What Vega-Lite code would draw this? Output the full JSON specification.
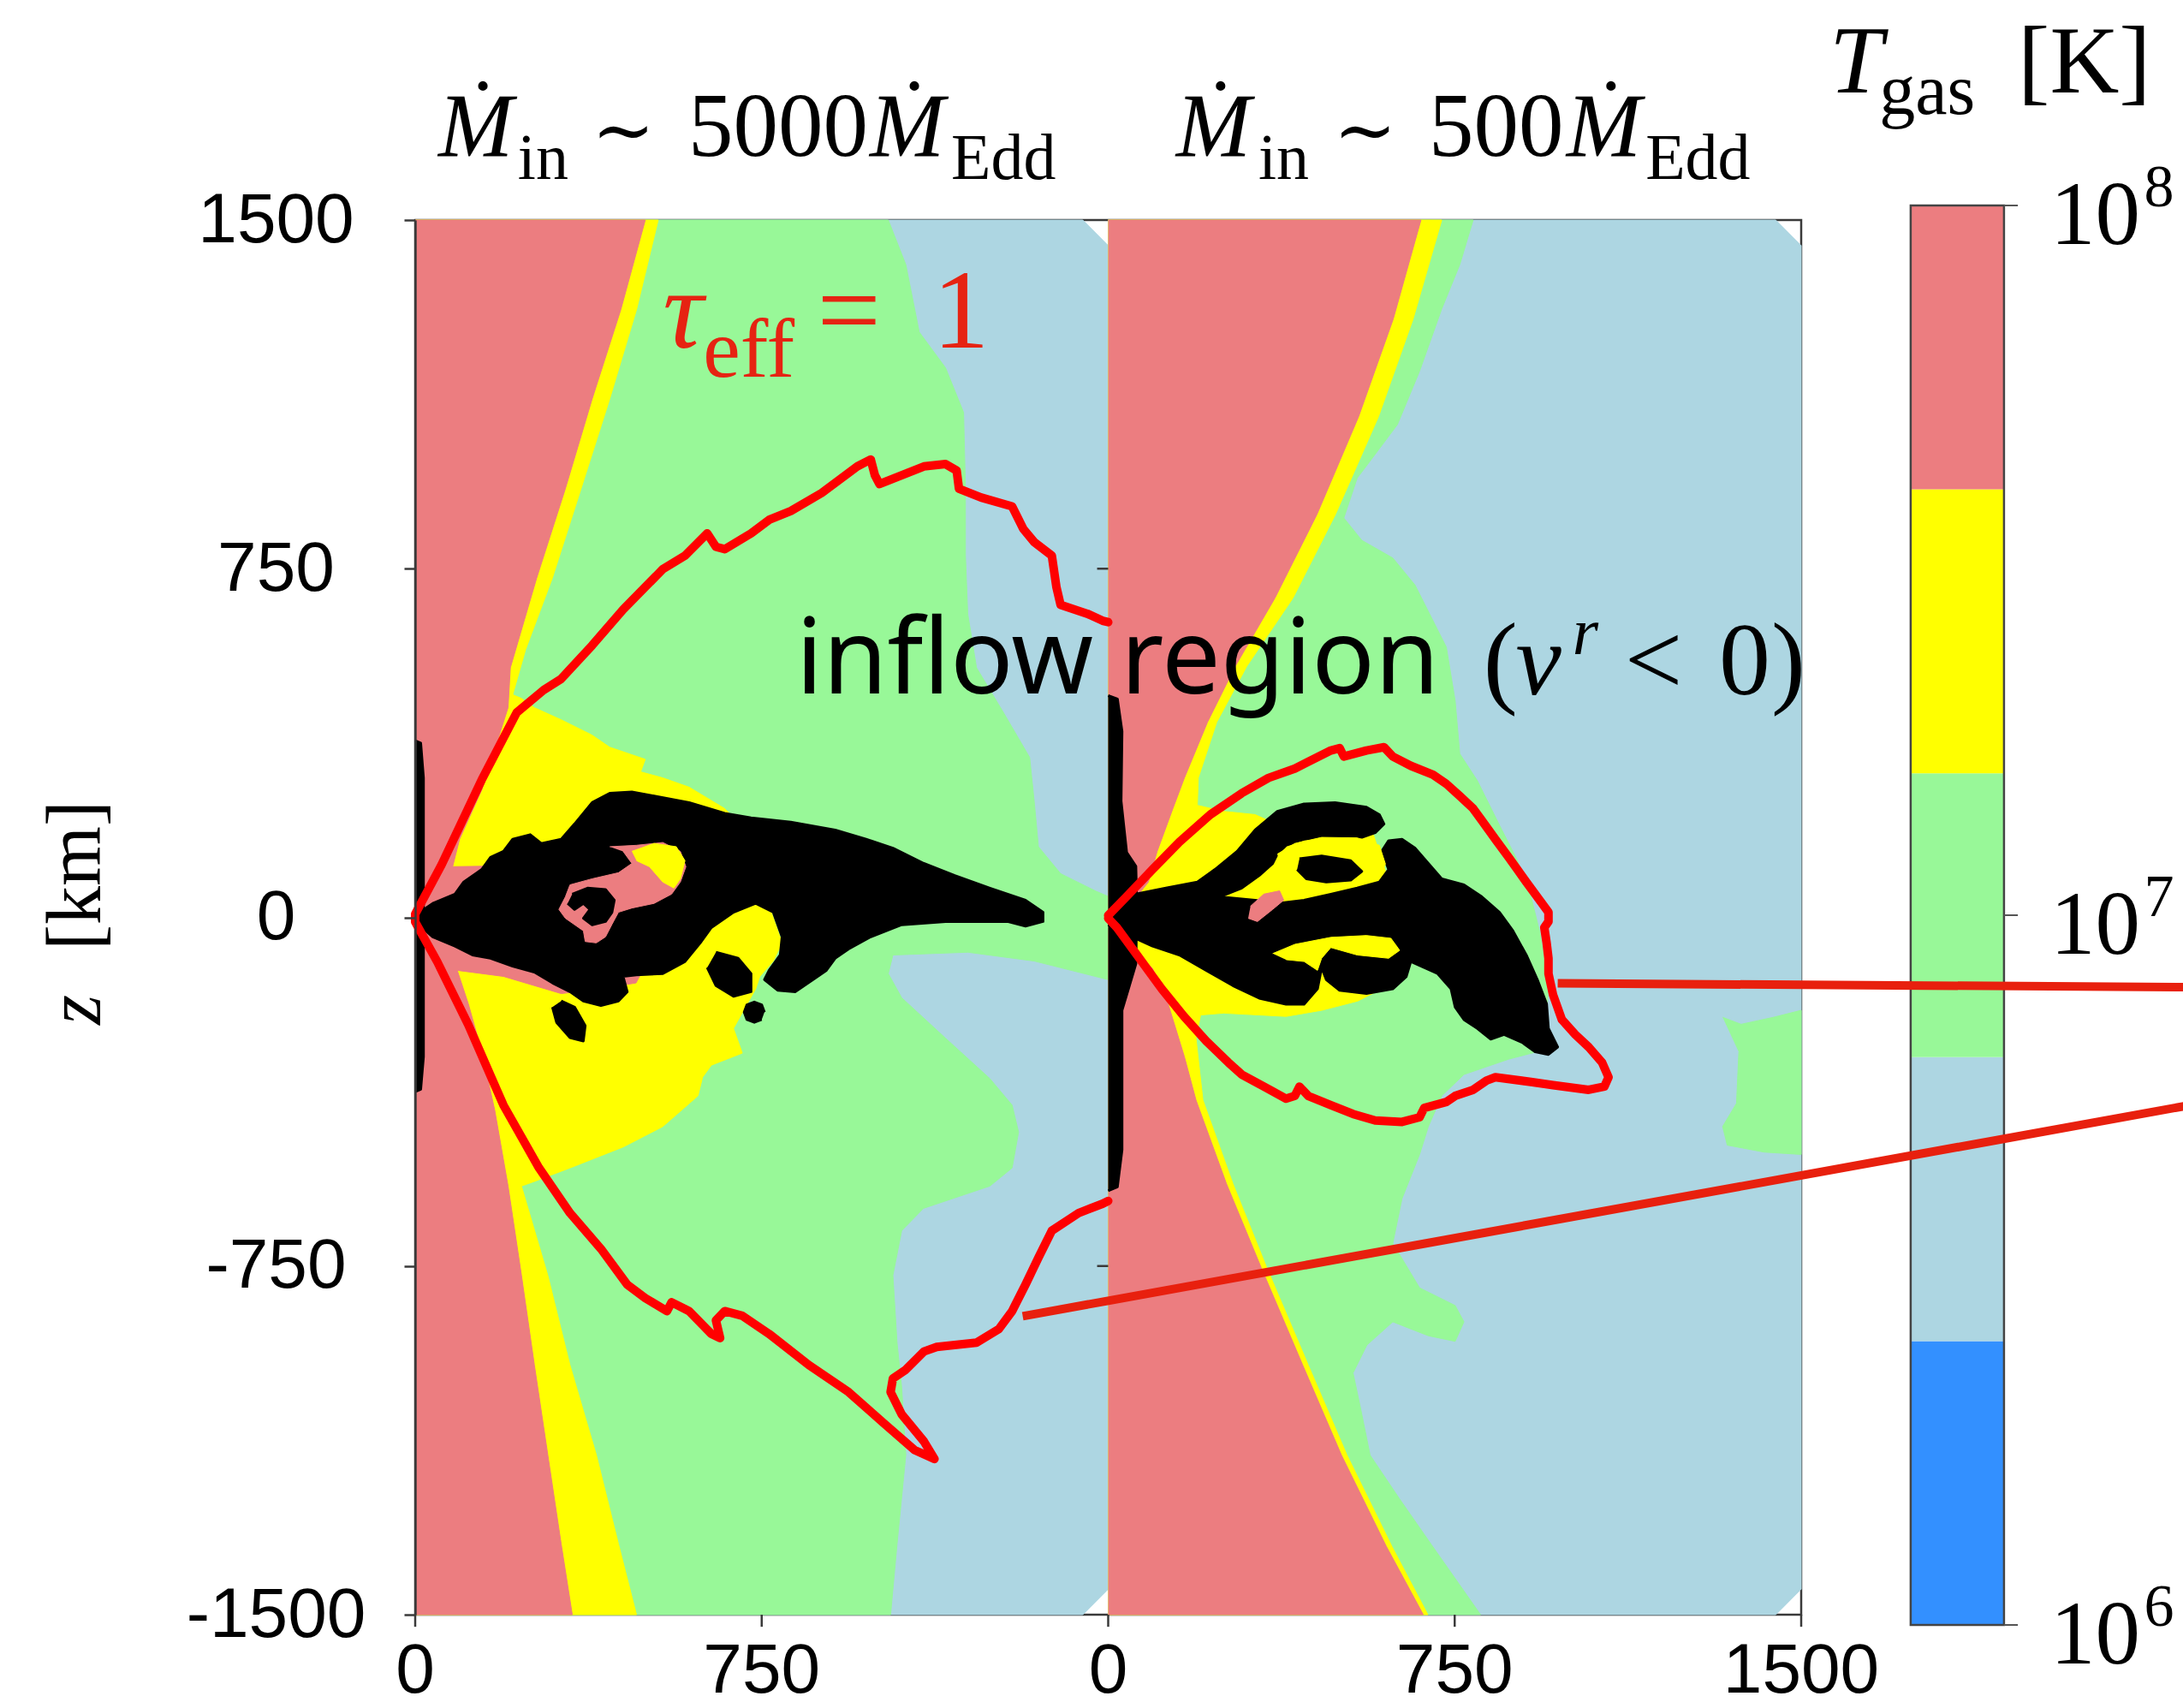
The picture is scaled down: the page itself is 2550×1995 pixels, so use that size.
{
  "$schema": "https://vega.github.io/schema/vega-lite/v6.json",
  "width": 1619,
  "height": 1629,
  "autosize": {"type": "none"},
  "padding": {"left": 485, "top": 257, "right": 446, "bottom": 109},
  "background": "white",
  "config": {"view": {"stroke": "#3a3a3a", "strokeWidth": 2.5}},
  "datasets": {
    "bands": [
      {"lo": 1000000, "hi": 2511886, "band": "cold"},
      {"lo": 2511886, "hi": 6309573, "band": "cool"},
      {"lo": 6309573, "hi": 15848932, "band": "mid"},
      {"lo": 15848932, "hi": 39810717, "band": "warm"},
      {"lo": 39810717, "hi": 100000000, "band": "hot"}
    ],
    "cbticks": [
      {"T": 100000000, "exp": "8"},
      {"T": 10000000, "exp": "7"},
      {"T": 1000000, "exp": "6"}
    ],
    "xticks": [
      {"r": 0, "label": "0"},
      {"r": 750, "label": "750"},
      {"r": 1500, "label": "0"},
      {"r": 2250, "label": "750"},
      {"r": 3000, "label": "1500"}
    ],
    "shapes": [
      {"s":"Lbg","x":0,"y":1500},{"s":"Lbg","x":1445,"y":1500},{"s":"Lbg","x":1500,"y":1445},{"s":"Lbg","x":1500,"y":-1445},{"s":"Lbg","x":1445,"y":-1500},{"s":"Lbg","x":0,"y":-1500},
      {"s":"Rbg","x":1500,"y":1500},{"s":"Rbg","x":2945,"y":1500},{"s":"Rbg","x":3000,"y":1445},{"s":"Rbg","x":3000,"y":-1445},{"s":"Rbg","x":2945,"y":-1500},{"s":"Rbg","x":1500,"y":-1500},

      {"s":"Lg","x":0,"y":1500},{"s":"Lg","x":1024,"y":1500},{"s":"Lg","x":1062,"y":1404},{"s":"Lg","x":1091,"y":1259},{"s":"Lg","x":1148,"y":1182},{"s":"Lg","x":1187,"y":1086},{"s":"Lg","x":1191,"y":922},{"s":"Lg","x":1191,"y":778},{"s":"Lg","x":1196,"y":653},{"s":"Lg","x":1215,"y":537},{"s":"Lg","x":1273,"y":441},{"s":"Lg","x":1330,"y":344},{"s":"Lg","x":1340,"y":248},{"s":"Lg","x":1349,"y":152},{"s":"Lg","x":1397,"y":94},{"s":"Lg","x":1474,"y":56},{"s":"Lg","x":1500,"y":45},{"s":"Lg","x":1500,"y":-134},{"s":"Lg","x":1340,"y":-94},{"s":"Lg","x":1196,"y":-75},{"s":"Lg","x":1034,"y":-81},{"s":"Lg","x":1024,"y":-121},{"s":"Lg","x":1053,"y":-173},{"s":"Lg","x":1148,"y":-260},{"s":"Lg","x":1244,"y":-347},{"s":"Lg","x":1292,"y":-404},{"s":"Lg","x":1306,"y":-462},{"s":"Lg","x":1292,"y":-539},{"s":"Lg","x":1244,"y":-578},{"s":"Lg","x":1100,"y":-626},{"s":"Lg","x":1053,"y":-674},{"s":"Lg","x":1034,"y":-770},{"s":"Lg","x":1043,"y":-915},{"s":"Lg","x":1053,"y":-1011},{"s":"Lg","x":1062,"y":-1156},{"s":"Lg","x":1043,"y":-1348},{"s":"Lg","x":1029,"y":-1500},{"s":"Lg","x":0,"y":-1500},

      {"s":"Rg","x":1500,"y":1500},{"s":"Rg","x":2290,"y":1500},{"s":"Rg","x":2261,"y":1404},{"s":"Rg","x":2222,"y":1309},{"s":"Rg","x":2174,"y":1175},{"s":"Rg","x":2126,"y":1060},{"s":"Rg","x":2068,"y":983},{"s":"Rg","x":2039,"y":945},{"s":"Rg","x":2010,"y":859},{"s":"Rg","x":2049,"y":811},{"s":"Rg","x":2116,"y":773},{"s":"Rg","x":2164,"y":715},{"s":"Rg","x":2193,"y":658},{"s":"Rg","x":2232,"y":581},{"s":"Rg","x":2251,"y":466},{"s":"Rg","x":2261,"y":352},{"s":"Rg","x":2299,"y":294},{"s":"Rg","x":2347,"y":198},{"s":"Rg","x":2386,"y":122},{"s":"Rg","x":2415,"y":45},{"s":"Rg","x":2434,"y":-31},{"s":"Rg","x":2453,"y":-146},{"s":"Rg","x":2444,"y":-285},{"s":"Rg","x":2367,"y":-305},{"s":"Rg","x":2270,"y":-338},{"s":"Rg","x":2222,"y":-384},{"s":"Rg","x":2193,"y":-450},{"s":"Rg","x":2174,"y":-510},{"s":"Rg","x":2136,"y":-605},{"s":"Rg","x":2116,"y":-701},{"s":"Rg","x":2174,"y":-797},{"s":"Rg","x":2251,"y":-835},{"s":"Rg","x":2270,"y":-870},{"s":"Rg","x":2251,"y":-912},{"s":"Rg","x":2193,"y":-900},{"s":"Rg","x":2116,"y":-870},{"s":"Rg","x":2060,"y":-920},{"s":"Rg","x":2030,"y":-980},{"s":"Rg","x":2045,"y":-1050},{"s":"Rg","x":2067,"y":-1157},{"s":"Rg","x":2130,"y":-1250},{"s":"Rg","x":2200,"y":-1350},{"s":"Rg","x":2306,"y":-1500},{"s":"Rg","x":1500,"y":-1500},

      {"s":"Rgp","x":2830,"y":-215},{"s":"Rgp","x":2870,"y":-230},{"s":"Rgp","x":2940,"y":-215},{"s":"Rgp","x":3000,"y":-200},{"s":"Rgp","x":3000,"y":-510},{"s":"Rgp","x":2920,"y":-505},{"s":"Rgp","x":2840,"y":-490},{"s":"Rgp","x":2830,"y":-450},{"s":"Rgp","x":2860,"y":-400},{"s":"Rgp","x":2865,"y":-290},

      {"s":"Ly","x":0,"y":1500},{"s":"Ly","x":526,"y":1500},{"s":"Ly","x":479,"y":1307},{"s":"Ly","x":421,"y":1115},{"s":"Ly","x":359,"y":922},{"s":"Ly","x":297,"y":730},{"s":"Ly","x":239,"y":576},{"s":"Ly","x":211,"y":479},{"s":"Ly","x":230,"y":471},{"s":"Ly","x":258,"y":451},{"s":"Ly","x":316,"y":425},{"s":"Ly","x":383,"y":392},{"s":"Ly","x":421,"y":366},{"s":"Ly","x":498,"y":340},{"s":"Ly","x":488,"y":313},{"s":"Ly","x":536,"y":300},{"s":"Ly","x":593,"y":280},{"s":"Ly","x":670,"y":234},{"s":"Ly","x":689,"y":215},{"s":"Ly","x":746,"y":142},{"s":"Ly","x":766,"y":24},{"s":"Ly","x":794,"y":-55},{"s":"Ly","x":775,"y":-94},{"s":"Ly","x":746,"y":-127},{"s":"Ly","x":737,"y":-154},{"s":"Ly","x":718,"y":-187},{"s":"Ly","x":689,"y":-239},{"s":"Ly","x":708,"y":-292},{"s":"Ly","x":641,"y":-318},{"s":"Ly","x":622,"y":-344},{"s":"Ly","x":612,"y":-384},{"s":"Ly","x":574,"y":-417},{"s":"Ly","x":536,"y":-450},{"s":"Ly","x":450,"y":-494},{"s":"Ly","x":335,"y":-539},{"s":"Ly","x":258,"y":-568},{"s":"Ly","x":230,"y":-578},{"s":"Ly","x":287,"y":-770},{"s":"Ly","x":335,"y":-963},{"s":"Ly","x":392,"y":-1156},{"s":"Ly","x":440,"y":-1348},{"s":"Ly","x":479,"y":-1500},{"s":"Ly","x":0,"y":-1500},

      {"s":"Ry","x":1500,"y":1500},{"s":"Ry","x":2222,"y":1500},{"s":"Ry","x":2160,"y":1287},{"s":"Ry","x":2085,"y":1077},{"s":"Ry","x":1992,"y":867},{"s":"Ry","x":1900,"y":687},{"s":"Ry","x":1800,"y":540},{"s":"Ry","x":1735,"y":420},{"s":"Ry","x":1695,"y":300},{"s":"Ry","x":1693,"y":241},{"s":"Ry","x":1750,"y":228},{"s":"Ry","x":1818,"y":221},{"s":"Ry","x":1847,"y":208},{"s":"Ry","x":1950,"y":200},{"s":"Ry","x":2060,"y":200},{"s":"Ry","x":2075,"y":175},{"s":"Ry","x":2100,"y":100},{"s":"Ry","x":2100,"y":40},{"s":"Ry","x":2080,"y":-40},{"s":"Ry","x":2110,"y":-50},{"s":"Ry","x":2125,"y":-90},{"s":"Ry","x":2100,"y":-150},{"s":"Ry","x":2040,"y":-180},{"s":"Ry","x":1962,"y":-200},{"s":"Ry","x":1885,"y":-213},{"s":"Ry","x":1750,"y":-206},{"s":"Ry","x":1700,"y":-210},{"s":"Ry","x":1690,"y":-260},{"s":"Ry","x":1705,"y":-393},{"s":"Ry","x":1770,"y":-573},{"s":"Ry","x":1843,"y":-753},{"s":"Ry","x":1933,"y":-963},{"s":"Ry","x":2017,"y":-1157},{"s":"Ry","x":2114,"y":-1353},{"s":"Ry","x":2192,"y":-1500},{"s":"Ry","x":1500,"y":-1500},

      {"s":"Lr","x":0,"y":1500},{"s":"Lr","x":498,"y":1500},{"s":"Lr","x":445,"y":1307},{"s":"Lr","x":383,"y":1115},{"s":"Lr","x":325,"y":922},{"s":"Lr","x":263,"y":730},{"s":"Lr","x":206,"y":537},{"s":"Lr","x":201,"y":451},{"s":"Lr","x":144,"y":274},{"s":"Lr","x":96,"y":168},{"s":"Lr","x":81,"y":109},{"s":"Lr","x":150,"y":110},{"s":"Lr","x":230,"y":140},{"s":"Lr","x":330,"y":150},{"s":"Lr","x":440,"y":160},{"s":"Lr","x":540,"y":155},{"s":"Lr","x":584,"y":150},{"s":"Lr","x":590,"y":50},{"s":"Lr","x":560,"y":-40},{"s":"Lr","x":500,"y":-100},{"s":"Lr","x":478,"y":-141},{"s":"Lr","x":402,"y":-154},{"s":"Lr","x":316,"y":-164},{"s":"Lr","x":191,"y":-127},{"s":"Lr","x":91,"y":-114},{"s":"Lr","x":115,"y":-186},{"s":"Lr","x":144,"y":-289},{"s":"Lr","x":172,"y":-414},{"s":"Lr","x":201,"y":-578},{"s":"Lr","x":230,"y":-770},{"s":"Lr","x":258,"y":-963},{"s":"Lr","x":287,"y":-1156},{"s":"Lr","x":316,"y":-1348},{"s":"Lr","x":340,"y":-1500},{"s":"Lr","x":0,"y":-1500},

      {"s":"Rr","x":1500,"y":1500},{"s":"Rr","x":2177,"y":1500},{"s":"Rr","x":2117,"y":1287},{"s":"Rr","x":2042,"y":1077},{"s":"Rr","x":1952,"y":867},{"s":"Rr","x":1861,"y":687},{"s":"Rr","x":1775,"y":540},{"s":"Rr","x":1715,"y":420},{"s":"Rr","x":1665,"y":300},{"s":"Rr","x":1640,"y":234},{"s":"Rr","x":1606,"y":142},{"s":"Rr","x":1587,"y":76},{"s":"Rr","x":1550,"y":30},{"s":"Rr","x":1515,"y":0},{"s":"Rr","x":1515,"y":-18},{"s":"Rr","x":1545,"y":-60},{"s":"Rr","x":1596,"y":-110},{"s":"Rr","x":1630,"y":-187},{"s":"Rr","x":1665,"y":-300},{"s":"Rr","x":1690,"y":-393},{"s":"Rr","x":1756,"y":-573},{"s":"Rr","x":1831,"y":-753},{"s":"Rr","x":1921,"y":-963},{"s":"Rr","x":2005,"y":-1157},{"s":"Rr","x":2102,"y":-1353},{"s":"Rr","x":2182,"y":-1500},{"s":"Rr","x":1500,"y":-1500},

      {"s":"Lb","x":0,"y":4},{"s":"Lb","x":38,"y":30},{"s":"Lb","x":86,"y":50},{"s":"Lb","x":105,"y":76},{"s":"Lb","x":144,"y":103},{"s":"Lb","x":163,"y":129},{"s":"Lb","x":191,"y":142},{"s":"Lb","x":211,"y":168},{"s":"Lb","x":249,"y":178},{"s":"Lb","x":273,"y":159},{"s":"Lb","x":316,"y":168},{"s":"Lb","x":345,"y":201},{"s":"Lb","x":383,"y":247},{"s":"Lb","x":421,"y":267},{"s":"Lb","x":469,"y":270},{"s":"Lb","x":517,"y":261},{"s":"Lb","x":593,"y":247},{"s":"Lb","x":670,"y":224},{"s":"Lb","x":727,"y":214},{"s":"Lb","x":813,"y":205},{"s":"Lb","x":909,"y":188},{"s":"Lb","x":976,"y":168},{"s":"Lb","x":1034,"y":149},{"s":"Lb","x":1101,"y":116},{"s":"Lb","x":1168,"y":90},{"s":"Lb","x":1244,"y":63},{"s":"Lb","x":1321,"y":37},{"s":"Lb","x":1359,"y":11},{"s":"Lb","x":1359,"y":-9},{"s":"Lb","x":1321,"y":-19},{"s":"Lb","x":1282,"y":-9},{"s":"Lb","x":1148,"y":-9},{"s":"Lb","x":1053,"y":-16},{"s":"Lb","x":986,"y":-42},{"s":"Lb","x":938,"y":-68},{"s":"Lb","x":909,"y":-88},{"s":"Lb","x":890,"y":-114},{"s":"Lb","x":861,"y":-134},{"s":"Lb","x":823,"y":-160},{"s":"Lb","x":785,"y":-157},{"s":"Lb","x":756,"y":-134},{"s":"Lb","x":766,"y":-114},{"s":"Lb","x":790,"y":-81},{"s":"Lb","x":794,"y":-42},{"s":"Lb","x":775,"y":11},{"s":"Lb","x":737,"y":30},{"s":"Lb","x":689,"y":11},{"s":"Lb","x":641,"y":-22},{"s":"Lb","x":617,"y":-55},{"s":"Lb","x":584,"y":-95},{"s":"Lb","x":536,"y":-121},{"s":"Lb","x":479,"y":-124},{"s":"Lb","x":450,"y":-127},{"s":"Lb","x":459,"y":-160},{"s":"Lb","x":440,"y":-180},{"s":"Lb","x":402,"y":-190},{"s":"Lb","x":364,"y":-180},{"s":"Lb","x":335,"y":-160},{"s":"Lb","x":297,"y":-141},{"s":"Lb","x":258,"y":-118},{"s":"Lb","x":211,"y":-105},{"s":"Lb","x":163,"y":-88},{"s":"Lb","x":124,"y":-81},{"s":"Lb","x":86,"y":-62},{"s":"Lb","x":38,"y":-42},{"s":"Lb","x":0,"y":-9},

      {"s":"Lb2","x":651,"y":-75},{"s":"Lb2","x":699,"y":-88},{"s":"Lb2","x":727,"y":-121},{"s":"Lb2","x":727,"y":-160},{"s":"Lb2","x":689,"y":-170},{"s":"Lb2","x":651,"y":-147},{"s":"Lb2","x":632,"y":-108},
      {"s":"Lb3","x":756,"y":-204},{"s":"Lb3","x":750,"y":-188},{"s":"Lb3","x":734,"y":-182},{"s":"Lb3","x":718,"y":-188},{"s":"Lb3","x":712,"y":-204},{"s":"Lb3","x":718,"y":-220},{"s":"Lb3","x":734,"y":-226},{"s":"Lb3","x":750,"y":-220},
      {"s":"Lb4","x":316,"y":-180},{"s":"Lb4","x":345,"y":-193},{"s":"Lb4","x":368,"y":-233},{"s":"Lb4","x":364,"y":-266},{"s":"Lb4","x":335,"y":-259},{"s":"Lb4","x":306,"y":-226},{"s":"Lb4","x":297,"y":-193},
      {"s":"Ls","x":0,"y":380},{"s":"Ls","x":12,"y":375},{"s":"Ls","x":18,"y":300},{"s":"Ls","x":18,"y":-300},{"s":"Ls","x":12,"y":-370},{"s":"Ls","x":0,"y":-375},
      {"s":"Rs","x":1500,"y":477},{"s":"Rs","x":1520,"y":470},{"s":"Rs","x":1530,"y":400},{"s":"Rs","x":1528,"y":250},{"s":"Rs","x":1540,"y":140},{"s":"Rs","x":1560,"y":110},{"s":"Rs","x":1562,"y":20},{"s":"Rs","x":1560,"y":-100},{"s":"Rs","x":1545,"y":-150},{"s":"Rs","x":1530,"y":-200},{"s":"Rs","x":1530,"y":-500},{"s":"Rs","x":1520,"y":-580},{"s":"Rs","x":1500,"y":-588},

      {"s":"Rb1","x":1539,"y":30},{"s":"Rb1","x":1558,"y":50},{"s":"Rb1","x":1625,"y":63},{"s":"Rb1","x":1693,"y":76},{"s":"Rb1","x":1731,"y":103},{"s":"Rb1","x":1779,"y":142},{"s":"Rb1","x":1818,"y":188},{"s":"Rb1","x":1866,"y":228},{"s":"Rb1","x":1924,"y":244},{"s":"Rb1","x":1991,"y":247},{"s":"Rb1","x":2059,"y":237},{"s":"Rb1","x":2087,"y":221},{"s":"Rb1","x":2097,"y":201},{"s":"Rb1","x":2078,"y":182},{"s":"Rb1","x":2049,"y":172},{"s":"Rb1","x":1982,"y":172},{"s":"Rb1","x":1924,"y":168},{"s":"Rb1","x":1885,"y":155},{"s":"Rb1","x":1866,"y":136},{"s":"Rb1","x":1856,"y":116},{"s":"Rb1","x":1827,"y":90},{"s":"Rb1","x":1789,"y":63},{"s":"Rb1","x":1741,"y":44},{"s":"Rb1","x":1673,"y":30},{"s":"Rb1","x":1616,"y":24},

      {"s":"Rb2","x":1500,"y":4},{"s":"Rb2","x":1548,"y":27},{"s":"Rb2","x":1644,"y":34},{"s":"Rb2","x":1741,"y":44},{"s":"Rb2","x":1818,"y":37},{"s":"Rb2","x":1866,"y":30},{"s":"Rb2","x":1924,"y":37},{"s":"Rb2","x":1982,"y":50},{"s":"Rb2","x":2039,"y":63},{"s":"Rb2","x":2087,"y":76},{"s":"Rb2","x":2107,"y":103},{"s":"Rb2","x":2092,"y":142},{"s":"Rb2","x":2107,"y":165},{"s":"Rb2","x":2136,"y":168},{"s":"Rb2","x":2164,"y":149},{"s":"Rb2","x":2193,"y":116},{"s":"Rb2","x":2222,"y":83},{"s":"Rb2","x":2270,"y":70},{"s":"Rb2","x":2309,"y":44},{"s":"Rb2","x":2347,"y":11},{"s":"Rb2","x":2376,"y":-29},{"s":"Rb2","x":2405,"y":-81},{"s":"Rb2","x":2429,"y":-134},{"s":"Rb2","x":2449,"y":-186},{"s":"Rb2","x":2453,"y":-239},{"s":"Rb2","x":2473,"y":-279},{"s":"Rb2","x":2453,"y":-295},{"s":"Rb2","x":2424,"y":-289},{"s":"Rb2","x":2396,"y":-269},{"s":"Rb2","x":2357,"y":-252},{"s":"Rb2","x":2328,"y":-262},{"s":"Rb2","x":2299,"y":-239},{"s":"Rb2","x":2270,"y":-220},{"s":"Rb2","x":2251,"y":-193},{"s":"Rb2","x":2242,"y":-154},{"s":"Rb2","x":2213,"y":-121},{"s":"Rb2","x":2155,"y":-95},{"s":"Rb2","x":2145,"y":-128},{"s":"Rb2","x":2116,"y":-154},{"s":"Rb2","x":2059,"y":-164},{"s":"Rb2","x":2001,"y":-157},{"s":"Rb2","x":1972,"y":-134},{"s":"Rb2","x":1962,"y":-108},{"s":"Rb2","x":1953,"y":-154},{"s":"Rb2","x":1924,"y":-187},{"s":"Rb2","x":1885,"y":-187},{"s":"Rb2","x":1827,"y":-174},{"s":"Rb2","x":1770,"y":-147},{"s":"Rb2","x":1712,"y":-114},{"s":"Rb2","x":1654,"y":-81},{"s":"Rb2","x":1596,"y":-62},{"s":"Rb2","x":1539,"y":-36},{"s":"Rb2","x":1500,"y":-16},

      {"s":"Lhole","x":421,"y":152},{"s":"Lhole","x":479,"y":155},{"s":"Lhole","x":536,"y":161},{"s":"Lhole","x":574,"y":142},{"s":"Lhole","x":586,"y":109},{"s":"Lhole","x":574,"y":76},{"s":"Lhole","x":555,"y":50},{"s":"Lhole","x":517,"y":30},{"s":"Lhole","x":469,"y":20},{"s":"Lhole","x":440,"y":11},{"s":"Lhole","x":426,"y":-15},{"s":"Lhole","x":412,"y":-42},{"s":"Lhole","x":392,"y":-55},{"s":"Lhole","x":368,"y":-52},{"s":"Lhole","x":364,"y":-29},{"s":"Lhole","x":325,"y":-2},{"s":"Lhole","x":311,"y":17},{"s":"Lhole","x":325,"y":44},{"s":"Lhole","x":335,"y":70},{"s":"Lhole","x":383,"y":83},{"s":"Lhole","x":440,"y":96},{"s":"Lhole","x":469,"y":116},{"s":"Lhole","x":450,"y":142},

      {"s":"Lyp","x":469,"y":142},{"s":"Lyp","x":517,"y":159},{"s":"Lyp","x":565,"y":152},{"s":"Lyp","x":584,"y":122},{"s":"Lyp","x":574,"y":83},{"s":"Lyp","x":560,"y":63},{"s":"Lyp","x":536,"y":76},{"s":"Lyp","x":507,"y":109},{"s":"Lyp","x":479,"y":122},
      {"s":"Rh1","x":1866,"y":136},{"s":"Rh1","x":1904,"y":159},{"s":"Rh1","x":1962,"y":172},{"s":"Rh1","x":2039,"y":171},{"s":"Rh1","x":2087,"y":155},{"s":"Rh1","x":2100,"y":115},{"s":"Rh1","x":2087,"y":83},{"s":"Rh1","x":2039,"y":73},{"s":"Rh1","x":1982,"y":63},{"s":"Rh1","x":1924,"y":47},{"s":"Rh1","x":1876,"y":37},{"s":"Rh1","x":1837,"y":40},{"s":"Rh1","x":1827,"y":63},{"s":"Rh1","x":1856,"y":90},{"s":"Rh1","x":1876,"y":109},
      {"s":"Rh2","x":1856,"y":-78},{"s":"Rh2","x":1904,"y":-58},{"s":"Rh2","x":1982,"y":-43},{"s":"Rh2","x":2059,"y":-39},{"s":"Rh2","x":2112,"y":-45},{"s":"Rh2","x":2131,"y":-71},{"s":"Rh2","x":2107,"y":-88},{"s":"Rh2","x":2039,"y":-81},{"s":"Rh2","x":1982,"y":-65},{"s":"Rh2","x":1962,"y":-88},{"s":"Rh2","x":1953,"y":-114},{"s":"Rh2","x":1924,"y":-95},{"s":"Rh2","x":1885,"y":-91},

      {"s":"Lc","x":340,"y":50},{"s":"Lc","x":373,"y":63},{"s":"Lc","x":412,"y":60},{"s":"Lc","x":431,"y":37},{"s":"Lc","x":426,"y":11},{"s":"Lc","x":412,"y":-9},{"s":"Lc","x":383,"y":-16},{"s":"Lc","x":364,"y":-2},{"s":"Lc","x":378,"y":17},{"s":"Lc","x":364,"y":30},{"s":"Lc","x":345,"y":17},{"s":"Lc","x":330,"y":30},
      {"s":"Rc","x":1914,"y":126},{"s":"Rc","x":1962,"y":132},{"s":"Rc","x":2025,"y":122},{"s":"Rc","x":2049,"y":99},{"s":"Rc","x":2025,"y":80},{"s":"Rc","x":1972,"y":76},{"s":"Rc","x":1929,"y":83},{"s":"Rc","x":1909,"y":103},

      {"s":"Rpk","x":1808,"y":24},{"s":"Rpk","x":1837,"y":50},{"s":"Rpk","x":1871,"y":57},{"s":"Rpk","x":1880,"y":37},{"s":"Rpk","x":1856,"y":17},{"s":"Rpk","x":1823,"y":-9},{"s":"Rpk","x":1803,"y":-2}
    ],
    "contours": [
      {"s":"L","x":1500,"y":-610},{"s":"L","x":1488,"y":-616},{"s":"L","x":1436,"y":-636},{"s":"L","x":1378,"y":-674},{"s":"L","x":1349,"y":-732},{"s":"L","x":1321,"y":-790},{"s":"L","x":1292,"y":-847},{"s":"L","x":1263,"y":-886},{"s":"L","x":1215,"y":-915},{"s":"L","x":1129,"y":-924},{"s":"L","x":1101,"y":-934},{"s":"L","x":1062,"y":-973},{"s":"L","x":1034,"y":-992},{"s":"L","x":1029,"y":-1021},{"s":"L","x":1053,"y":-1069},{"s":"L","x":1101,"y":-1127},{"s":"L","x":1124,"y":-1165},{"s":"L","x":1081,"y":-1146},{"s":"L","x":1014,"y":-1088},{"s":"L","x":938,"y":-1021},{"s":"L","x":852,"y":-963},{"s":"L","x":766,"y":-896},{"s":"L","x":708,"y":-857},{"s":"L","x":670,"y":-847},{"s":"L","x":651,"y":-867},{"s":"L","x":660,"y":-905},{"s":"L","x":641,"y":-896},{"s":"L","x":593,"y":-847},{"s":"L","x":555,"y":-828},{"s":"L","x":545,"y":-847},{"s":"L","x":498,"y":-819},{"s":"L","x":459,"y":-790},{"s":"L","x":402,"y":-713},{"s":"L","x":335,"y":-636},{"s":"L","x":268,"y":-539},{"s":"L","x":191,"y":-404},{"s":"L","x":115,"y":-231},{"s":"L","x":48,"y":-96},{"s":"L","x":0,"y":-10},{"s":"L","x":0,"y":7},{"s":"L","x":57,"y":113},{"s":"L","x":144,"y":296},{"s":"L","x":220,"y":441},{"s":"L","x":278,"y":489},{"s":"L","x":316,"y":513},{"s":"L","x":383,"y":585},{"s":"L","x":450,"y":662},{"s":"L","x":536,"y":749},{"s":"L","x":584,"y":778},{"s":"L","x":632,"y":826},{"s":"L","x":651,"y":797},{"s":"L","x":670,"y":792},{"s":"L","x":727,"y":826},{"s":"L","x":766,"y":855},{"s":"L","x":813,"y":874},{"s":"L","x":880,"y":913},{"s":"L","x":957,"y":970},{"s":"L","x":986,"y":985},{"s":"L","x":995,"y":951},{"s":"L","x":1005,"y":932},{"s":"L","x":1053,"y":951},{"s":"L","x":1101,"y":970},{"s":"L","x":1148,"y":975},{"s":"L","x":1172,"y":961},{"s":"L","x":1177,"y":922},{"s":"L","x":1225,"y":903},{"s":"L","x":1292,"y":884},{"s":"L","x":1316,"y":836},{"s":"L","x":1340,"y":807},{"s":"L","x":1378,"y":778},{"s":"L","x":1388,"y":710},{"s":"L","x":1397,"y":672},{"s":"L","x":1455,"y":653},{"s":"L","x":1488,"y":638},{"s":"L","x":1500,"y":635},
      {"s":"R","x":1500,"y":4},{"s":"R","x":1539,"y":44},{"s":"R","x":1596,"y":103},{"s":"R","x":1654,"y":162},{"s":"R","x":1721,"y":221},{"s":"R","x":1789,"y":267},{"s":"R","x":1847,"y":300},{"s":"R","x":1904,"y":320},{"s":"R","x":1982,"y":359},{"s":"R","x":2001,"y":364},{"s":"R","x":2010,"y":346},{"s":"R","x":2059,"y":359},{"s":"R","x":2097,"y":366},{"s":"R","x":2116,"y":346},{"s":"R","x":2155,"y":326},{"s":"R","x":2203,"y":307},{"s":"R","x":2232,"y":287},{"s":"R","x":2261,"y":261},{"s":"R","x":2290,"y":234},{"s":"R","x":2309,"y":208},{"s":"R","x":2338,"y":168},{"s":"R","x":2367,"y":129},{"s":"R","x":2405,"y":76},{"s":"R","x":2434,"y":37},{"s":"R","x":2453,"y":11},{"s":"R","x":2453,"y":-9},{"s":"R","x":2444,"y":-22},{"s":"R","x":2449,"y":-55},{"s":"R","x":2453,"y":-88},{"s":"R","x":2453,"y":-121},{"s":"R","x":2463,"y":-167},{"s":"R","x":2482,"y":-220},{"s":"R","x":2511,"y":-252},{"s":"R","x":2540,"y":-279},{"s":"R","x":2569,"y":-312},{"s":"R","x":2583,"y":-344},{"s":"R","x":2574,"y":-364},{"s":"R","x":2540,"y":-371},{"s":"R","x":2463,"y":-361},{"s":"R","x":2415,"y":-354},{"s":"R","x":2338,"y":-344},{"s":"R","x":2319,"y":-351},{"s":"R","x":2290,"y":-371},{"s":"R","x":2251,"y":-384},{"s":"R","x":2232,"y":-397},{"s":"R","x":2184,"y":-410},{"s":"R","x":2174,"y":-430},{"s":"R","x":2136,"y":-440},{"s":"R","x":2078,"y":-437},{"s":"R","x":2030,"y":-423},{"s":"R","x":1982,"y":-404},{"s":"R","x":1933,"y":-384},{"s":"R","x":1914,"y":-364},{"s":"R","x":1904,"y":-384},{"s":"R","x":1885,"y":-390},{"s":"R","x":1837,"y":-364},{"s":"R","x":1789,"y":-338},{"s":"R","x":1760,"y":-312},{"s":"R","x":1712,"y":-266},{"s":"R","x":1664,"y":-213},{"s":"R","x":1616,"y":-154},{"s":"R","x":1558,"y":-75},{"s":"R","x":1519,"y":-22},{"s":"R","x":1500,"y":-2}
    ],
    "splits": [{"x": 1500}],
    "innerticks": [{"x": 1476, "x2": 1500, "y": 750}, {"x": 1476, "x2": 1500, "y": -750}],
    "pointers": [
      {"x": 2473, "y": -142, "x2": 3830, "y2": -150},
      {"x": 1315, "y": -858, "x2": 3830, "y2": -406}
    ],
    "texts": [
      {"k":"sim","txt":"∼","x":382,"y":1638},
      {"k":"sim","txt":"∼","x":1988,"y":1638},
      {"k":"title","txt":"5000","x":591,"y":1638},
      {"k":"title","txt":"500","x":2194,"y":1638},
      {"k":"titleM","txt":"Ṁ","x":50,"y":1638},
      {"k":"titleM","txt":"Ṁ","x":984,"y":1638},
      {"k":"titleM","txt":"Ṁ","x":1647,"y":1638},
      {"k":"titleM","txt":"Ṁ","x":2492,"y":1638},
      {"k":"titleSub","txt":"in","x":222,"y":1588},
      {"k":"titleSub","txt":"Edd","x":1160,"y":1588},
      {"k":"titleSub","txt":"in","x":1825,"y":1588},
      {"k":"titleSub","txt":"Edd","x":2663,"y":1588},
      {"k":"cbT","txt":"T","x":3061,"y":1774},
      {"k":"cbUnit","txt":"[K]","x":3469,"y":1774},
      {"k":"cbSub","txt":"gas","x":3169,"y":1728},
      {"k":"tau","txt":"τ","x":536,"y":1225},
      {"k":"tauSub","txt":"eff","x":623,"y":1163},
      {"k":"tauEq","txt":"=","x":870,"y":1225},
      {"k":"tauEq","txt":"1","x":1120,"y":1225},
      {"k":"inflow","txt":"inflow region","x":824,"y":482},
      {"k":"cond","txt":"(","x":2312,"y":480},
      {"k":"cond","txt":"<","x":2618,"y":480},
      {"k":"cond","txt":"0","x":2822,"y":480},
      {"k":"cond","txt":")","x":2935,"y":480},
      {"k":"condV","txt":"v","x":2382,"y":480},
      {"k":"condR","txt":"r","x":2505,"y":566},
      {"k":"zAxis","txt":"z","x":-682,"y":-231},
      {"k":"kmAxis","txt":"[km]","x":-682,"y":-71}
    ]
  },
  "resolve": {"scale": {"y": "independent"}},
  "layer": [
    {
      "encoding": {
        "x": {"field": "x", "type": "quantitative",
          "scale": {"domain": [0, 3000], "nice": false, "zero": false},
          "axis": null},
        "y": {"field": "y", "type": "quantitative",
          "scale": {"domain": [-1500, 1500], "nice": false, "zero": false},
          "axis": {"values": [-1500, -750, 0, 750, 1500], "labelExpr": "toString(datum.value)",
            "orient": "left", "title": null, "grid": false, "zindex": 1, "tickSize": 13, "tickWidth": 2.5, "tickColor": "#3a3a3a",
            "domainColor": "#3a3a3a", "domainWidth": 2.5, "labelFont": "Liberation Sans", "labelFontSize": 82,
            "labelColor": "black", "labelAlign": "center", "labelBaseline": "middle", "labelPadding": 150,
            "labelFlush": false, "labelOverlap": false, "labelBound": false, "labelLimit": 600}}
      },
      "layer": [
        {
          "data": {"name": "shapes"},
          "transform": [{"filter": {"field": "s", "oneOf": ["Lbg", "Rbg"]}}],
          "mark": {"type": "line", "fill": "#ADD6E2", "stroke": "#ADD6E2", "strokeWidth": 1},
          "encoding": {"detail": {"field": "s"}, "order": {"value": null}}
        },
        {
          "data": {"name": "shapes"},
          "transform": [{"filter": {"field": "s", "oneOf": ["Lg", "Rg", "Rgp"]}}],
          "mark": {"type": "line", "fill": "#98F898", "stroke": "#98F898", "strokeWidth": 1},
          "encoding": {"detail": {"field": "s"}, "order": {"value": null}}
        },
        {
          "data": {"name": "shapes"},
          "transform": [{"filter": {"field": "s", "oneOf": ["Ly", "Ry"]}}],
          "mark": {"type": "line", "fill": "#FFFF00", "stroke": "#FFFF00", "strokeWidth": 1},
          "encoding": {"detail": {"field": "s"}, "order": {"value": null}}
        },
        {
          "data": {"name": "shapes"},
          "transform": [{"filter": {"field": "s", "oneOf": ["Lr", "Rr"]}}],
          "mark": {"type": "line", "fill": "#EC7D80", "stroke": "#EC7D80", "strokeWidth": 1},
          "encoding": {"detail": {"field": "s"}, "order": {"value": null}}
        },
        {
          "data": {"name": "shapes"},
          "transform": [{"filter": {"field": "s", "oneOf": ["Lb", "Lb2", "Lb3", "Lb4", "Ls", "Rs", "Rb1", "Rb2"]}}],
          "mark": {"type": "line", "fill": "black", "stroke": "black", "strokeWidth": 3, "strokeJoin": "round"},
          "encoding": {"detail": {"field": "s"}, "order": {"value": null}}
        },
        {
          "data": {"name": "shapes"},
          "transform": [{"filter": {"field": "s", "oneOf": ["Lhole"]}}],
          "mark": {"type": "line", "fill": "#EC7D80", "stroke": "#EC7D80", "strokeWidth": 1},
          "encoding": {"detail": {"field": "s"}, "order": {"value": null}}
        },
        {
          "data": {"name": "shapes"},
          "transform": [{"filter": {"field": "s", "oneOf": ["Lyp", "Rh1", "Rh2"]}}],
          "mark": {"type": "line", "fill": "#FFFF00", "stroke": "#FFFF00", "strokeWidth": 1},
          "encoding": {"detail": {"field": "s"}, "order": {"value": null}}
        },
        {
          "data": {"name": "shapes"},
          "transform": [{"filter": {"field": "s", "oneOf": ["Lc", "Rc"]}}],
          "mark": {"type": "line", "fill": "black", "stroke": "black", "strokeWidth": 3, "strokeJoin": "round"},
          "encoding": {"detail": {"field": "s"}, "order": {"value": null}}
        },
        {
          "data": {"name": "shapes"},
          "transform": [{"filter": {"field": "s", "oneOf": ["Rpk"]}}],
          "mark": {"type": "line", "fill": "#EC7D80", "stroke": "#EC7D80", "strokeWidth": 1},
          "encoding": {"detail": {"field": "s"}, "order": {"value": null}}
        },
        {
          "data": {"name": "contours"},
          "mark": {"type": "line", "color": "#FF0000", "strokeWidth": 10, "strokeJoin": "round", "strokeCap": "round"},
          "encoding": {"detail": {"field": "s"}, "order": {"value": null}}
        },
        {
          "data": {"name": "splits"},
          "mark": {"type": "rule", "color": "#3a3a3a", "strokeWidth": 2.5},
          "encoding": {"y": {"datum": -1500, "type": "quantitative"}, "y2": {"datum": 1500}}
        },
        {
          "data": {"name": "innerticks"},
          "mark": {"type": "rule", "color": "#3a3a3a", "strokeWidth": 2.5},
          "encoding": {"x2": {"field": "x2"}}
        },
        {
          "data": {"name": "texts"},
          "transform": [{"filter": "datum.k === 'sim'"}],
          "mark": {"type": "text", "font": "DejaVu Serif", "fontSize": 88, "align": "left", "baseline": "alphabetic", "color": "black"},
          "encoding": {"text": {"field": "txt"}}
        },
        {
          "data": {"name": "texts"},
          "transform": [{"filter": "datum.k === 'title'"}],
          "mark": {"type": "text", "font": "Liberation Serif", "fontSize": 105, "align": "left", "baseline": "alphabetic", "color": "black"},
          "encoding": {"text": {"field": "txt"}}
        },
        {
          "data": {"name": "texts"},
          "transform": [{"filter": "datum.k === 'titleM'"}],
          "mark": {"type": "text", "font": "Liberation Serif", "fontStyle": "italic", "fontSize": 105, "align": "left", "baseline": "alphabetic", "color": "black"},
          "encoding": {"text": {"field": "txt"}}
        },
        {
          "data": {"name": "texts"},
          "transform": [{"filter": "datum.k === 'titleSub'"}],
          "mark": {"type": "text", "font": "Liberation Serif", "fontSize": 76, "align": "left", "baseline": "alphabetic", "color": "black"},
          "encoding": {"text": {"field": "txt"}}
        },
        {
          "data": {"name": "texts"},
          "transform": [{"filter": "datum.k === 'cbT'"}],
          "mark": {"type": "text", "font": "Liberation Serif", "fontStyle": "italic", "fontSize": 112, "align": "left", "baseline": "alphabetic", "color": "black"},
          "encoding": {"text": {"field": "txt"}}
        },
        {
          "data": {"name": "texts"},
          "transform": [{"filter": "datum.k === 'cbUnit'"}],
          "mark": {"type": "text", "font": "Liberation Serif", "fontSize": 112, "align": "left", "baseline": "alphabetic", "color": "black"},
          "encoding": {"text": {"field": "txt"}}
        },
        {
          "data": {"name": "texts"},
          "transform": [{"filter": "datum.k === 'cbSub'"}],
          "mark": {"type": "text", "font": "Liberation Serif", "fontSize": 84, "align": "left", "baseline": "alphabetic", "color": "black"},
          "encoding": {"text": {"field": "txt"}}
        },
        {
          "data": {"name": "texts"},
          "transform": [{"filter": "datum.k === 'tau'"}],
          "mark": {"type": "text", "font": "Liberation Serif", "fontStyle": "italic", "fontSize": 132, "align": "left", "baseline": "alphabetic", "color": "#E62312"},
          "encoding": {"text": {"field": "txt"}}
        },
        {
          "data": {"name": "texts"},
          "transform": [{"filter": "datum.k === 'tauSub'"}],
          "mark": {"type": "text", "font": "Liberation Serif", "fontSize": 98, "align": "left", "baseline": "alphabetic", "color": "#E62312"},
          "encoding": {"text": {"field": "txt"}}
        },
        {
          "data": {"name": "texts"},
          "transform": [{"filter": "datum.k === 'tauEq'"}],
          "mark": {"type": "text", "font": "Liberation Serif", "fontSize": 132, "align": "left", "baseline": "alphabetic", "color": "#E62312"},
          "encoding": {"text": {"field": "txt"}}
        },
        {
          "data": {"name": "texts"},
          "transform": [{"filter": "datum.k === 'inflow'"}],
          "mark": {"type": "text", "font": "Noto Sans", "fontSize": 122, "align": "left", "baseline": "alphabetic", "color": "black"},
          "encoding": {"text": {"field": "txt"}}
        },
        {
          "data": {"name": "texts"},
          "transform": [{"filter": "datum.k === 'cond'"}],
          "mark": {"type": "text", "font": "Liberation Serif", "fontSize": 120, "align": "left", "baseline": "alphabetic", "color": "black"},
          "encoding": {"text": {"field": "txt"}}
        },
        {
          "data": {"name": "texts"},
          "transform": [{"filter": "datum.k === 'condV'"}],
          "mark": {"type": "text", "font": "Liberation Serif", "fontStyle": "italic", "fontSize": 120, "align": "left", "baseline": "alphabetic", "color": "black"},
          "encoding": {"text": {"field": "txt"}}
        },
        {
          "data": {"name": "texts"},
          "transform": [{"filter": "datum.k === 'condR'"}],
          "mark": {"type": "text", "font": "Liberation Serif", "fontStyle": "italic", "fontSize": 78, "align": "left", "baseline": "alphabetic", "color": "black"},
          "encoding": {"text": {"field": "txt"}}
        },
        {
          "data": {"name": "texts"},
          "transform": [{"filter": "datum.k === 'zAxis'"}],
          "mark": {"type": "text", "font": "Liberation Serif", "fontStyle": "italic", "fontSize": 90, "align": "left", "baseline": "alphabetic", "angle": 270, "color": "black"},
          "encoding": {"text": {"field": "txt"}}
        },
        {
          "data": {"name": "texts"},
          "transform": [{"filter": "datum.k === 'kmAxis'"}],
          "mark": {"type": "text", "font": "Liberation Serif", "fontSize": 90, "align": "left", "baseline": "alphabetic", "angle": 270, "color": "black"},
          "encoding": {"text": {"field": "txt"}}
        }
      ]
    },
    {
      "data": {"name": "bands"},
      "encoding": {
        "x": {"datum": 3237, "type": "quantitative", "scale": {"domain": [0, 3000], "nice": false, "zero": false}, "axis": null},
        "y": {"field": "lo", "type": "quantitative", "scale": {"type": "log", "domain": [1033949, 95387800], "nice": false}, "axis": null}
      },
      "layer": [
        {
          "mark": {"type": "rect"},
          "encoding": {
            "x2": {"datum": 3439},
            "y2": {"field": "hi"},
            "color": {"field": "band", "type": "nominal", "legend": null,
              "scale": {"domain": ["cold", "cool", "mid", "warm", "hot"], "range": ["#3390FF", "#ADD6E2", "#98F898", "#FFFF00", "#EC7D80"]}}
          }
        },
        {
          "transform": [{"filter": "datum.band === 'hot'"}],
          "mark": {"type": "rect", "fill": null, "stroke": "#444444", "strokeWidth": 2.5},
          "encoding": {"x2": {"datum": 3439}, "y": {"datum": 1000000, "type": "quantitative", "axis": null}, "y2": {"datum": 100000000}}
        },
        {
          "data": {"name": "cbticks"},
          "mark": {"type": "rule", "color": "#555555", "strokeWidth": 2},
          "encoding": {"x": {"datum": 3439, "type": "quantitative", "axis": null}, "x2": {"datum": 3469}, "y": {"field": "T", "type": "quantitative", "axis": null}}
        },
        {
          "data": {"name": "cbticks"},
          "mark": {"type": "text", "font": "Liberation Serif", "fontSize": 105, "align": "left", "baseline": "alphabetic", "dy": 45, "color": "black"},
          "encoding": {"x": {"datum": 3539, "type": "quantitative", "axis": null}, "y": {"field": "T", "type": "quantitative", "axis": null}, "text": {"value": "10"}}
        },
        {
          "data": {"name": "cbticks"},
          "mark": {"type": "text", "font": "Liberation Serif", "fontSize": 70, "align": "left", "baseline": "alphabetic", "dy": 1, "color": "black"},
          "encoding": {"x": {"datum": 3742, "type": "quantitative", "axis": null}, "y": {"field": "T", "type": "quantitative", "axis": null}, "text": {"field": "exp"}}
        }
      ]
    },
    {
      "data": {"name": "xticks"},
      "encoding": {
        "x": {"field": "r", "type": "quantitative", "scale": {"domain": [0, 3000], "nice": false, "zero": false}, "axis": null},
        "y": {"datum": -1500, "type": "quantitative", "scale": {"domain": [-1500, 1500], "nice": false, "zero": false}, "axis": null}
      },
      "layer": [
        {
          "mark": {"type": "rule", "color": "#3a3a3a", "strokeWidth": 2.5},
          "encoding": {"y2": {"datum": -1526}}
        },
        {
          "mark": {"type": "text", "font": "Liberation Sans", "fontSize": 82, "align": "center", "baseline": "top", "dy": 26, "color": "black"},
          "encoding": {"text": {"field": "label"}}
        }
      ]
    },
    {
      "data": {"name": "pointers"},
      "mark": {"type": "rule", "color": "#E8200E", "strokeWidth": 10},
      "encoding": {
        "x": {"field": "x", "type": "quantitative", "scale": {"domain": [0, 3000], "nice": false, "zero": false}, "axis": null},
        "y": {"field": "y", "type": "quantitative", "scale": {"domain": [-1500, 1500], "nice": false, "zero": false}, "axis": null},
        "x2": {"field": "x2"},
        "y2": {"field": "y2"}
      }
    }
  ]
}
